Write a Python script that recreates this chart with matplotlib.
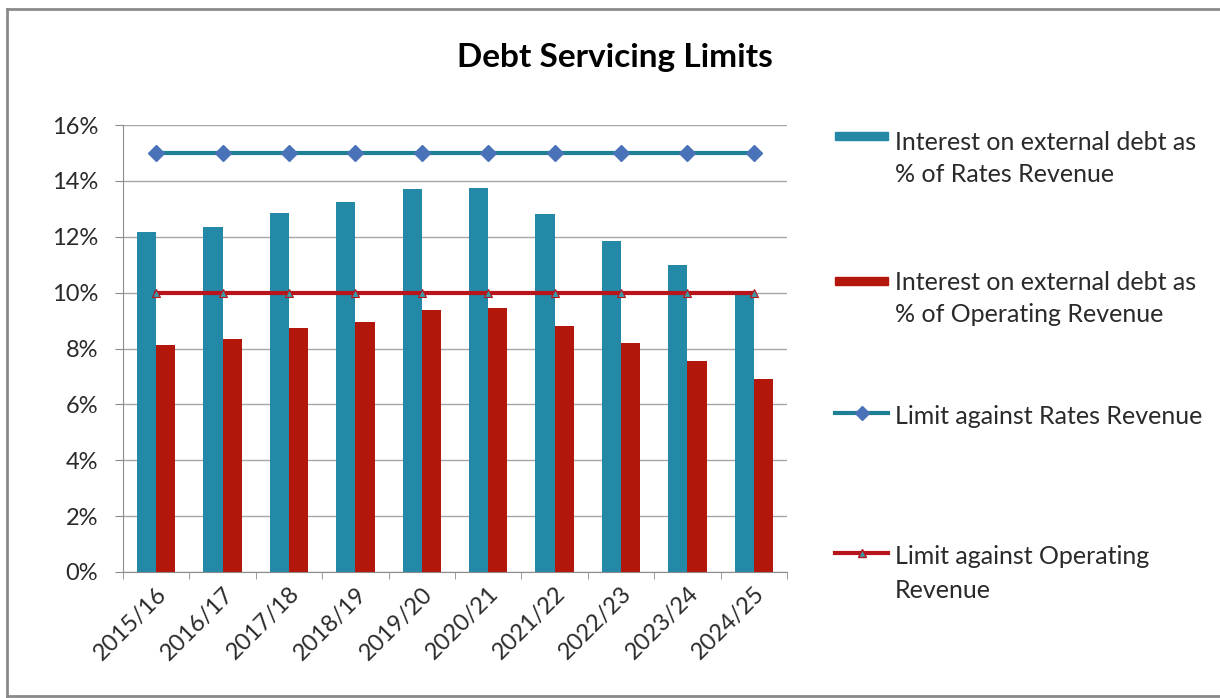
import numpy             as np
import matplotlib.pyplot as plt
from matplotlib.lines   import Line2D
from matplotlib.patches import Rectangle


# Chart data (percent)
years        = ['2015/16', '2016/17', '2017/18', '2018/19', '2019/20',
                '2020/21', '2021/22', '2022/23', '2023/24', '2024/25']
rates_pct    = [12.18, 12.36, 12.84, 13.25, 13.70,
                13.73, 12.80, 11.86, 10.99,  9.91]
oper_pct     = [ 8.14,  8.35,  8.72,  8.95,  9.38,
                 9.44,  8.80,  8.21,  7.56,  6.92]
rates_limit  = [15] * len(years)
oper_limit   = [10] * len(years)
y_ticks      = [0, 2, 4, 6, 8, 10, 12, 14, 16]

legend_labels = [['Interest on external debt as', '% of Rates Revenue'],
                 ['Interest on external debt as', '% of Operating Revenue'],
                 ['Limit against Rates Revenue'],
                 ['Limit against Operating', 'Revenue']]

# Styling
teal     = '#2389A6'
red      = '#B3160B'
line_tl  = '#1F7F95'
diamond  = '#4A72B8'
line_red = '#B8141C'
tri      = '#3C9AA8'
grid_c   = '#A6A6A6'
text_c   = '#2A2A2A'
font     = ['Lato', 'DejaVu Sans']

W, H = 1220, 698
plt.rcParams['font.family'] = font

fig = plt.figure(figsize=(W / 100, H / 100), dpi=100)
fig.patch.set_facecolor('white')


def px(x, y):
    """Pixel position to figure fraction"""
    return x / W, 1 - y / H


ax = fig.add_axes([123 / W, 1 - 572 / H, 664 / W, 447 / H])

x     = np.arange(len(years))
bar_w = 0.29

#       Bars
ax.bar(x - bar_w / 2, rates_pct, bar_w, color=teal, zorder=3)
ax.bar(x + bar_w / 2, oper_pct,  bar_w, color=red,  zorder=3)

#       Limit lines
ax.plot(x, rates_limit, color=line_tl, lw=3, marker='D', ms=8,
        mfc=diamond, mec=diamond, zorder=4)
ax.plot(x, oper_limit, color=line_red, lw=3, marker='^', ms=6,
        mfc=tri, mec=line_red, mew=0.8, zorder=4)

#       Axes
ax.set_xlim(-0.5, len(years) - 0.5)
ax.set_ylim(0, 16)
ax.set_yticks(y_ticks)
ax.set_yticklabels(['{}%'.format(v) for v in y_ticks])
ax.set_xticks(x)
ax.set_xticklabels(years, rotation=45, ha='right', va='top',
                   rotation_mode='anchor')
ax.set_xticks(np.arange(len(years) + 1) - 0.5, minor=True)
ax.tick_params(axis='x', which='major', length=0, pad=8,
               labelsize=17, labelcolor=text_c)
ax.tick_params(axis='x', which='minor', length=5, color='#8C8C8C')
ax.tick_params(axis='y', length=6, color='#8C8C8C', pad=12,
               labelsize=17, labelcolor=text_c)
ax.grid(axis='y', color=grid_c, lw=1, zorder=0)
for side in ['top', 'right']:
    ax.spines[side].set_visible(False)
for side in ['left', 'bottom']:
    ax.spines[side].set_color('#8C8C8C')

#       Title
fig.text(*px(615, 58), 'Debt Servicing Limits', ha='center', va='center',
         fontsize=24, fontweight='bold', color='black')

#       Legend
hx0, hx1, tx = 835, 888, 895
entries = [(136, 142), (281, 282), (413, 417), (553, 557)]
for i, ((hy, ty), lines) in enumerate(zip(entries, legend_labels)):
    if i < 2:
        fig.patches.append(Rectangle(px(hx0, hy + 4), (hx1 - hx0) / W,
                                     8 / H, transform=fig.transFigure,
                                     color=[teal, red][i]))
    else:
        mx, my = px((hx0 + hx1) / 2, hy)
        lx0, _ = px(hx0, hy)
        lx1, _ = px(hx1, hy)
        if i == 2:
            style = dict(color=line_tl, marker='D', ms=7,
                         mfc=diamond, mec=diamond)
        else:
            style = dict(color=line_red, marker='^', ms=6,
                         mfc=tri, mec=line_red)
        fig.add_artist(Line2D([lx0, lx1], [my, my], lw=3,
                              transform=fig.transFigure,
                              color=style['color']))
        fig.add_artist(Line2D([mx], [my], lw=0, transform=fig.transFigure,
                              **style))
    for j, line in enumerate(lines):
        fig.text(*px(tx, ty + 33 * j), line, ha='left', va='center',
                 fontsize=18, color=text_c)

#       Outer frame (left, top and bottom edges)
for xs, ys in [([7, 7], [9, 696]), ([7, W], [9, 9]), ([7, W], [696, 696])]:
    fx = [v / W for v in xs]
    fy = [1 - v / H for v in ys]
    fig.add_artist(Line2D(fx, fy, lw=2, color='#8A8A8A',
                          transform=fig.transFigure))

fig.savefig('out.png', dpi=100, facecolor='white')
